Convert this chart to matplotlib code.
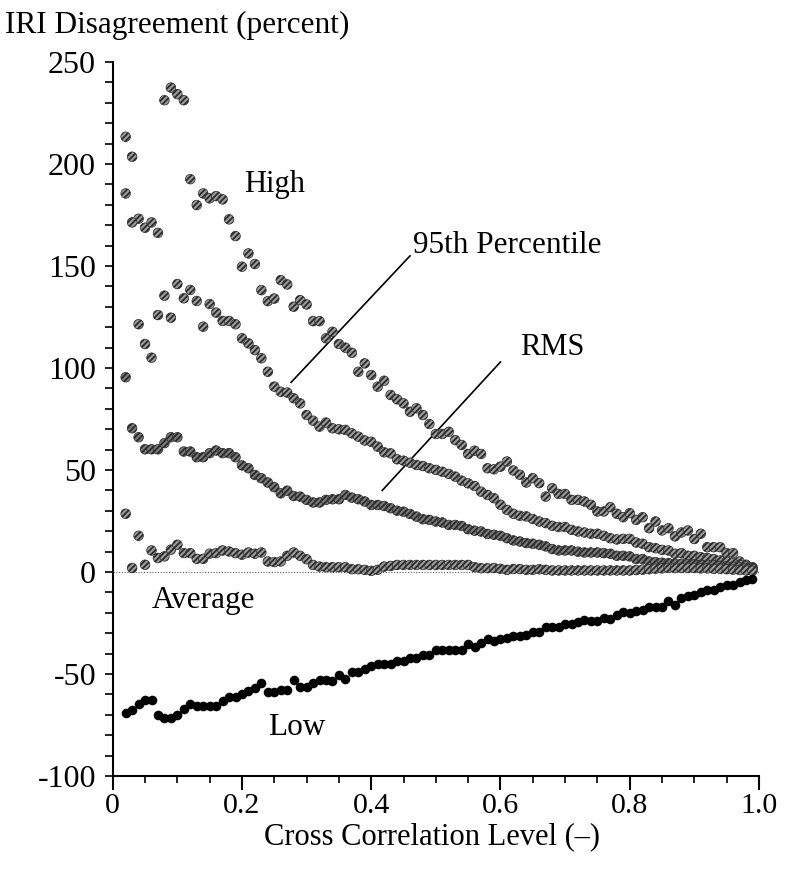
import numpy as np
import matplotlib
matplotlib.use("Agg")
import matplotlib.pyplot as plt
from matplotlib.ticker import MultipleLocator

plt.rcParams['font.family'] = ['Liberation Serif', 'DejaVu Serif']
plt.rcParams['axes.unicode_minus'] = False
plt.rcParams['hatch.linewidth'] = 1.3

# cross correlation levels
corr = np.round(np.arange(0.02, 0.995, 0.01), 2)

high = [213.4, 203.6, 173.2, 168.8, 171.4, 166.3, 231.3, 237.5, 234.3, 231.3,
        192.6, 179.9, 185.6, 183.2, 184.3, 182.7, 172.9, 164.7, 149.7, 156.2,
        151.0, 138.2, 132.8, 134.1, 143.1, 141.0, 130.1, 133.3, 131.2, 123.0,
        123.0, 114.6, 117.8, 111.8, 110.0, 107.5, 98.2, 102.3, 96.6, 90.9,
        93.8, 86.8, 84.7, 82.7, 78.6, 80.3, 77.0, 72.6, 67.7, 67.7,
        68.8, 64.7, 62.3, 57.9, 59.5, 57.9, 50.9, 50.4, 51.7, 54.2,
        49.8, 47.7, 43.9, 46.0, 43.6, 37.0, 41.1, 38.3, 38.3, 35.4,
        35.4, 34.6, 33.0, 29.7, 29.7, 31.8, 28.6, 26.9, 28.9, 25.6,
        26.9, 21.5, 24.8, 20.4, 21.5, 17.5, 19.4, 20.4, 16.2, 18.8,
        12.2, 12.2, 12.2, 9.3, 9.3, 5.2, 3.6, 2.4]

pct95 = [185.6, 171.4, 121.5, 111.8, 105.1, 126.0, 135.5, 124.7, 141.2, 134.2,
         138.3, 132.9, 120.3, 131.4, 127.2, 123.1, 123.1, 121.5, 114.6, 112.1,
         108.8, 104.8, 98.2, 90.9, 88.4, 88.0, 85.2, 82.7, 77.0, 74.2,
         71.3, 73.3, 70.5, 70.0, 69.7, 68.0, 66.4, 64.5, 63.9, 61.5,
         58.7, 58.2, 55.3, 54.6, 53.6, 52.5, 52.0, 50.9, 50.1, 49.2,
         48.1, 46.8, 44.8, 43.5, 42.2, 39.4, 37.8, 36.2, 33.0, 30.5,
         28.6, 27.6, 27.3, 26.0, 24.8, 24.0, 22.7, 22.1, 22.1, 20.7,
         19.9, 19.4, 18.8, 18.8, 17.8, 16.6, 16.0, 16.3, 16.3, 14.5,
         13.9, 12.2, 11.7, 10.9, 10.6, 9.0, 9.3, 8.0, 8.0, 7.3,
         6.9, 6.4, 5.7, 5.2, 4.4, 3.6, 2.8, 2.0]

rms = [95.5, 70.5, 66.1, 60.2, 60.2, 60.2, 63.2, 66.1, 66.1, 59.1,
       59.1, 56.3, 56.3, 58.3, 59.6, 58.3, 58.3, 56.3, 52.3, 50.9,
       47.6, 46.0, 43.9, 41.6, 38.6, 39.9, 37.3, 37.0, 35.4, 34.1,
       34.1, 35.4, 35.7, 35.7, 37.8, 36.5, 35.7, 34.6, 32.9, 32.9,
       32.4, 31.3, 30.1, 29.6, 28.5, 27.2, 25.9, 25.6, 24.8, 24.3,
       23.1, 23.1, 22.6, 21.0, 20.3, 19.9, 18.7, 18.3, 17.8, 16.6,
       15.5, 15.0, 14.2, 13.9, 13.4, 12.6, 11.3, 10.6, 10.6, 10.6,
       10.0, 9.6, 9.6, 9.6, 9.3, 9.0, 8.0, 8.0, 7.7, 6.4,
       6.4, 5.2, 4.9, 4.6, 4.4, 4.1, 4.1, 3.9, 3.8, 3.6,
       3.6, 3.3, 3.1, 2.9, 2.7, 2.4, 2.0, 1.6]

average = [28.6, 2.0, 17.8, 3.6, 10.6, 6.9, 7.7, 11.0, 13.4, 9.3,
           9.3, 6.5, 6.5, 9.0, 9.3, 10.6, 10.1, 9.3, 8.5, 9.6,
           9.0, 9.6, 5.2, 4.9, 5.2, 8.0, 9.6, 8.0, 6.3, 3.5,
           2.7, 2.4, 2.4, 2.4, 2.4, 1.4, 1.4, 1.1, 0.6, 1.1,
           2.7, 3.0, 3.5, 3.5, 3.5, 3.5, 3.5, 3.5, 3.5, 3.5,
           3.5, 3.5, 3.5, 3.5, 2.4, 1.9, 1.9, 2.0, 1.6, 1.1,
           1.5, 1.5, 1.1, 1.1, 1.4, 1.1, 0.8, 0.8, 0.8, 0.8,
           0.8, 0.8, 0.8, 0.8, 0.8, 0.8, 0.8, 0.8, 0.8, 1.0,
           1.2, 1.4, 1.6, 1.8, 2.0, 2.0, 2.0, 2.0, 2.0, 1.8,
           1.8, 1.6, 1.6, 1.4, 1.2, 1.0, 0.8, 0.6]

low = [-69.0, -67.4, -64.5, -62.9, -62.9, -69.9, -71.5, -71.5, -69.9, -67.1,
       -64.5, -65.8, -65.8, -65.8, -65.8, -63.2, -61.4, -61.4, -59.8, -58.5,
       -56.8, -54.4, -58.9, -58.9, -57.6, -57.6, -53.1, -56.3, -56.3, -54.4,
       -53.1, -53.1, -53.6, -50.3, -52.3, -49.0, -49.0, -47.5, -45.9, -44.9,
       -45.0, -45.0, -43.8, -43.8, -42.1, -42.1, -40.8, -40.8, -38.1, -38.1,
       -38.1, -38.1, -38.1, -35.1, -36.7, -34.8, -32.8, -34.0, -32.8, -32.3,
       -31.2, -31.2, -30.7, -29.6, -29.6, -26.9, -26.9, -26.9, -25.3, -25.3,
       -24.7, -23.7, -23.8, -23.8, -22.5, -23.0, -20.9, -19.8, -20.1, -19.3,
       -18.5, -17.2, -17.2, -17.2, -14.4, -16.0, -12.7, -11.9, -11.1, -10.0,
       -9.0, -8.7, -7.3, -6.2, -6.2, -5.1, -4.1, -3.4]

fig = plt.figure(figsize=(7.9, 8.72), dpi=100)
ax = fig.add_axes([0.1427, 0.110, 0.818, 0.8188])

ax.axhline(0, color='#555555', lw=0.8, ls=(0, (1, 1.5)), zorder=1)

ms = 48
grey_series = [(high, '#9c9c9c'), (pct95, '#9c9c9c'), (rms, '#7a7a7a'), (average, '#9c9c9c')]
for vals, fc in grey_series:
    ax.scatter(corr, vals, s=ms, facecolor=fc, edgecolor='#2a2a2a',
               hatch='//////', linewidths=0.5, zorder=3)
ax.scatter(corr, low, s=ms, color='black', linewidths=0, zorder=3)

ax.set_xlim(0, 1.0)
ax.set_ylim(-100, 250)
ax.xaxis.set_minor_locator(MultipleLocator(0.05))
ax.yaxis.set_minor_locator(MultipleLocator(10))
ax.set_xticks([0, 0.2, 0.4, 0.6, 0.8, 1.0])
ax.set_xticklabels(['0', '0.2', '0.4', '0.6', '0.8', '1.0'])
ax.set_yticks([-100, -50, 0, 50, 100, 150, 200, 250])
ax.set_yticklabels(['-100', '-50', '0', '50', '100', '150', '200', '250'])

ax.spines['top'].set_visible(False)
ax.spines['right'].set_visible(False)
for sp in ('left', 'bottom'):
    ax.spines[sp].set_linewidth(1.5)
ax.tick_params(axis='x', which='major', direction='out', length=10, width=1.5,
               labelsize=21.5, pad=2)
ax.tick_params(axis='x', which='minor', direction='out', length=5, width=1.2)
ax.tick_params(axis='y', which='both', direction='out', length=6, width=1.2,
               labelsize=23, pad=6)

# series labels and leader lines
ax.text(0.203, 190, 'High', fontsize=22, va='center', ha='left')
ax.text(0.465, 160, '95th Percentile', fontsize=22.5, va='center', ha='left')
ax.plot([0.276, 0.460], [93, 155], color='black', lw=1.2)
ax.text(0.630, 110, 'RMS', fontsize=22, va='center', ha='left')
ax.plot([0.417, 0.600], [40, 103], color='black', lw=1.2)
ax.text(0.061, -14, 'Average', fontsize=22.5, va='center', ha='left')
ax.text(0.240, -76, 'Low', fontsize=22.5, va='center', ha='left')

fig.text(0.006, 0.971, 'IRI Disagreement (percent)', fontsize=22.5, va='center', ha='left')
fig.text(0.547, 0.040, 'Cross Correlation Level (\u2013)', fontsize=22, va='center', ha='center')

fig.savefig('out.png', dpi=100)
